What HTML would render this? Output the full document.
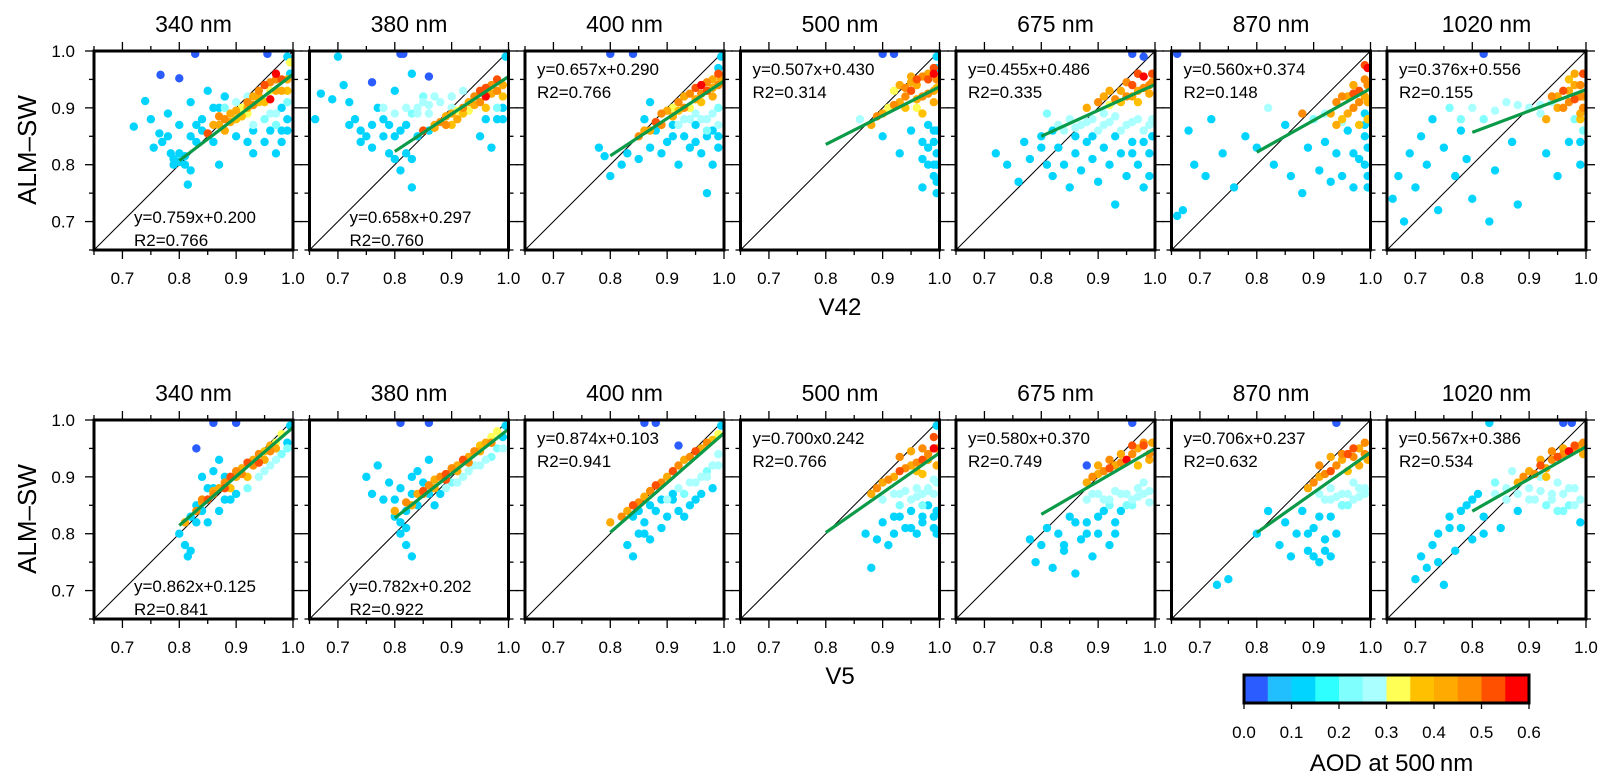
<!DOCTYPE html>
<html><head><meta charset="utf-8">
<style>
html,body{margin:0;padding:0;background:#fff;}
svg{display:block;font-family:"Liberation Sans",sans-serif;}
</style></head>
<body>
<svg id="fig" width="1612" height="783" viewBox="0 0 1612 783" xmlns="http://www.w3.org/2000/svg"></svg>
<script>
// ---------- data ----------
const wavelengths = ["340 nm","380 nm","400 nm","500 nm","675 nm","870 nm","1020 nm"];
const xTickValues = [0.7,0.8,0.9,1.0];
const yTickValues = [0.7,0.8,0.9,1.0];
const aodTickLabels = ["0.0","0.1","0.2","0.3","0.4","0.5","0.6"];
const aodColors = ['#2a5cff','#22bfff','#00d4ff','#2effff','#80ffff','#aaffff','#ffff55','#ffc000','#ffaa00','#ff8c00','#ff5000','#ff0000'];
const slopesV42 = [0.759,0.658,0.657,0.507,0.455,0.560,0.376];
const interceptsV42 = [0.200,0.297,0.290,0.430,0.486,0.374,0.556];
const eqTextV42 = ["y=0.759x+0.200","y=0.658x+0.297","y=0.657x+0.290","y=0.507x+0.430","y=0.455x+0.486","y=0.560x+0.374","y=0.376x+0.556"];
const r2TextV42 = ["R2=0.766","R2=0.760","R2=0.766","R2=0.314","R2=0.335","R2=0.148","R2=0.155"];
const slopesV5 = [0.862,0.782,0.874,0.700,0.580,0.706,0.567];
const interceptsV5 = [0.125,0.202,0.103,0.242,0.370,0.237,0.386];
const eqTextV5 = ["y=0.862x+0.125","y=0.782x+0.202","y=0.874x+0.103","y=0.700x0.242","y=0.580x+0.370","y=0.706x+0.237","y=0.567x+0.386"];
const r2TextV5 = ["R2=0.841","R2=0.922","R2=0.941","R2=0.766","R2=0.749","R2=0.632","R2=0.534"];

// points: [x, y, aod]
const ptsV42_340 = [[0.72,0.867,.1],[0.74,0.912,.1],[0.75,0.88,.1],[0.755,0.83,.1],[0.765,0.855,.1],[0.77,0.84,.1],[0.78,0.89,.15],[0.785,0.82,.1],[0.79,0.81,.1],[0.80,0.805,.1],[0.81,0.815,.1],[0.82,0.79,.1],[0.815,0.765,.15],[0.82,0.85,.1],[0.83,0.87,.1],[0.84,0.88,.1],[0.82,0.91,.1],[0.85,0.93,.1],[0.86,0.90,.1],[0.87,0.80,.1],[0.88,0.92,.1],[0.84,0.86,.1],[0.93,0.82,.1],[0.95,0.84,.1],[0.97,0.82,.1],[0.98,0.86,.1],[0.99,0.88,.1],[0.995,0.96,.1],[0.99,0.99,.1],[0.97,0.87,.2],[0.96,0.89,.25],[0.93,0.87,.25],[0.90,0.89,.28],[0.98,0.9,.15],[0.92,0.84,.12],[0.767,0.958,.02],[0.80,0.952,.02],[0.828,0.995,.02],[0.955,0.995,.02],[0.85,0.855,.5],[0.87,0.87,.4],[0.88,0.88,.45],[0.89,0.89,.4],[0.90,0.895,.4],[0.91,0.90,.35],[0.92,0.91,.45],[0.93,0.92,.4],[0.94,0.93,.45],[0.95,0.94,.5],[0.96,0.915,.6],[0.97,0.95,.45],[0.98,0.93,.4],[0.99,0.95,.4],[0.96,0.93,.35],[0.90,0.88,.38],[0.94,0.91,.38],[0.88,0.86,.42],[0.995,0.98,.33],[0.92,0.89,.33]];
const extraV42_340 = [[0.86,0.87,.4],[0.87,0.885,.45],[0.89,0.875,.4],[0.91,0.885,.38],[0.92,0.90,.4],[0.93,0.905,.45],[0.94,0.92,.4],[0.95,0.91,.38],[0.96,0.945,.45],[0.97,0.93,.42],[0.98,0.95,.5],[0.99,0.93,.38],[0.97,0.96,.55],[0.88,0.90,.2],[0.90,0.91,.25],[0.92,0.92,.28],[0.95,0.88,.2],[0.97,0.89,.28],[0.99,0.91,.2],[0.78,0.85,.1],[0.80,0.87,.1],[0.83,0.84,.12],[0.86,0.84,.1],[0.87,0.90,.12],[0.90,0.85,.1],[0.93,0.86,.12],[0.96,0.86,.1],[0.98,0.84,.1],[0.99,0.86,.12],[0.79,0.80,.12],[0.81,0.80,.1],[0.80,0.82,.12]];
const ptsV42_380 = [[0.66,0.88,.1],[0.67,0.925,.1],[0.69,0.915,.1],[0.70,0.99,.1],[0.71,0.94,.1],[0.72,0.91,.1],[0.73,0.88,.1],[0.74,0.86,.1],[0.75,0.85,.1],[0.76,0.87,.15],[0.77,0.90,.1],[0.78,0.88,.15],[0.79,0.82,.1],[0.80,0.81,.1],[0.81,0.79,.1],[0.80,0.85,.1],[0.82,0.87,.15],[0.83,0.89,.2],[0.84,0.90,.25],[0.85,0.91,.28],[0.86,0.89,.25],[0.87,0.92,.28],[0.83,0.76,.1],[0.84,0.85,.1],[0.86,0.86,.15],[0.90,0.92,.28],[0.92,0.93,.28],[0.95,0.85,.1],[0.97,0.83,.1],[0.98,0.88,.1],[0.99,0.9,.15],[0.995,0.99,.1],[0.80,0.93,.12],[0.83,0.96,.1],[0.76,0.945,.02],[0.81,0.995,.02],[0.815,0.995,.02],[0.86,0.955,.02],[0.85,0.86,.5],[0.87,0.87,.4],[0.88,0.875,.45],[0.89,0.885,.4],[0.90,0.89,.4],[0.91,0.895,.35],[0.92,0.90,.45],[0.93,0.91,.4],[0.94,0.92,.45],[0.95,0.93,.5],[0.96,0.92,.6],[0.97,0.94,.45],[0.98,0.95,.5],[0.99,0.94,.4],[0.96,0.90,.38],[0.90,0.87,.38],[0.93,0.895,.33]];
const extraV42_380 = [[0.80,0.89,.25],[0.82,0.90,.28],[0.84,0.89,.25],[0.86,0.905,.28],[0.88,0.91,.25],[0.90,0.90,.28],[0.85,0.92,.2],[0.78,0.90,.25],[0.72,0.87,.1],[0.74,0.84,.1],[0.76,0.83,.1],[0.78,0.85,.1],[0.79,0.87,.15],[0.81,0.86,.1],[0.83,0.81,.1],[0.82,0.82,.12],[0.96,0.88,.15],[0.98,0.90,.2],[0.99,0.88,.1],[0.87,0.865,.4],[0.89,0.87,.45],[0.91,0.88,.4],[0.92,0.89,.38],[0.94,0.905,.4],[0.95,0.91,.45],[0.96,0.935,.5],[0.97,0.925,.4],[0.98,0.93,.45],[0.99,0.92,.38]];
const ptsV42_400 = [[0.78,0.83,.1],[0.79,0.815,.1],[0.80,0.78,.1],[0.82,0.80,.1],[0.83,0.82,.1],[0.85,0.81,.1],[0.87,0.83,.1],[0.88,0.86,.1],[0.90,0.84,.1],[0.91,0.87,.15],[0.92,0.80,.1],[0.93,0.85,.1],[0.94,0.83,.1],[0.95,0.87,.1],[0.96,0.82,.1],[0.97,0.75,.1],[0.98,0.80,.1],[0.99,0.85,.1],[0.86,0.88,.1],[0.87,0.91,.1],[0.93,0.88,.25],[0.95,0.89,.25],[0.97,0.88,.28],[0.99,0.87,.25],[0.995,0.99,.1],[0.99,0.97,.15],[0.80,0.995,.02],[0.84,0.995,.02],[0.85,0.85,.45],[0.86,0.86,.4],[0.88,0.875,.5],[0.89,0.89,.45],[0.90,0.895,.4],[0.91,0.90,.35],[0.92,0.91,.45],[0.93,0.92,.4],[0.94,0.925,.45],[0.95,0.935,.5],[0.96,0.94,.55],[0.97,0.945,.45],[0.98,0.95,.4],[0.99,0.96,.5],[0.96,0.91,.38],[0.94,0.90,.35],[0.98,0.92,.4]];
const extraV42_400 = [[0.87,0.86,.4],[0.89,0.87,.45],[0.91,0.885,.4],[0.92,0.895,.38],[0.93,0.90,.45],[0.95,0.915,.4],[0.96,0.925,.45],[0.97,0.93,.5],[0.98,0.935,.4],[0.99,0.94,.45],[0.995,0.95,.4],[0.92,0.87,.25],[0.94,0.88,.28],[0.96,0.88,.25],[0.98,0.89,.28],[0.99,0.90,.2],[0.97,0.86,.2],[0.89,0.82,.1],[0.91,0.85,.1],[0.95,0.84,.1],[0.97,0.85,.12],[0.99,0.83,.1],[0.98,0.86,.1]];
const ptsV42_500 = [[0.86,0.88,.25],[0.88,0.87,.4],[0.89,0.885,.45],[0.90,0.89,.4],[0.91,0.90,.35],[0.92,0.905,.45],[0.93,0.91,.4],[0.94,0.92,.45],[0.95,0.93,.5],[0.96,0.94,.4],[0.97,0.92,.45],[0.98,0.95,.5],[0.99,0.93,.4],[0.97,0.89,.38],[0.99,0.96,.55],[0.96,0.90,.35],[0.95,0.955,.4],[0.92,0.93,.33],[0.90,0.85,.1],[0.93,0.82,.1],[0.95,0.86,.15],[0.97,0.84,.1],[0.98,0.80,.1],[0.99,0.78,.1],[0.995,0.82,.1],[0.99,0.86,.12],[0.98,0.87,.1],[0.995,0.75,.1],[0.97,0.76,.1],[0.995,0.99,.1],[0.995,0.97,.12],[0.90,0.995,.02],[0.92,0.995,.02]];
const extraV42_500 = [[0.93,0.94,.4],[0.94,0.935,.45],[0.95,0.945,.4],[0.96,0.95,.5],[0.97,0.955,.45],[0.98,0.96,.4],[0.99,0.97,.5],[0.995,0.95,.45],[0.96,0.915,.4],[0.98,0.925,.45],[0.99,0.91,.4],[0.995,0.935,.38],[0.94,0.90,.38],[0.98,0.83,.1],[0.99,0.80,.1],[0.995,0.86,.1],[0.995,0.80,.12],[0.97,0.81,.1],[0.995,0.77,.1],[0.99,0.84,.15]];
const ptsV42_675 = [[0.72,0.82,.1],[0.74,0.80,.1],[0.76,0.77,.1],[0.77,0.84,.1],[0.78,0.81,.1],[0.80,0.85,.15],[0.81,0.80,.1],[0.82,0.78,.1],[0.83,0.83,.1],[0.84,0.80,.1],[0.85,0.76,.1],[0.86,0.82,.1],[0.87,0.79,.1],[0.88,0.84,.1],[0.89,0.81,.1],[0.90,0.77,.1],[0.91,0.83,.1],[0.92,0.80,.1],[0.93,0.73,.1],[0.94,0.82,.1],[0.95,0.78,.1],[0.96,0.84,.1],[0.97,0.80,.1],[0.98,0.76,.1],[0.99,0.82,.1],[0.83,0.87,.25],[0.85,0.88,.28],[0.87,0.87,.25],[0.89,0.88,.28],[0.91,0.87,.25],[0.93,0.885,.28],[0.95,0.87,.25],[0.97,0.88,.28],[0.99,0.87,.25],[0.81,0.89,.2],[0.96,0.995,.02],[0.98,0.99,.02],[0.88,0.90,.4],[0.90,0.91,.45],[0.91,0.92,.4],[0.92,0.905,.35],[0.93,0.915,.45],[0.94,0.93,.4],[0.95,0.92,.45],[0.96,0.94,.5],[0.97,0.93,.4],[0.98,0.955,.6],[0.99,0.94,.45],[0.995,0.96,.5],[0.97,0.91,.38]];
const extraV42_675 = [[0.84,0.86,.28],[0.86,0.865,.25],[0.88,0.875,.28],[0.90,0.86,.25],[0.92,0.875,.28],[0.94,0.86,.25],[0.96,0.875,.28],[0.98,0.86,.25],[0.995,0.88,.28],[0.91,0.89,.25],[0.80,0.83,.1],[0.82,0.86,.1],[0.86,0.85,.1],[0.89,0.85,.1],[0.93,0.85,.12],[0.96,0.82,.1],[0.98,0.84,.1],[0.99,0.78,.1],[0.995,0.85,.12],[0.92,0.93,.4],[0.94,0.91,.38],[0.95,0.945,.45],[0.96,0.92,.4],[0.97,0.96,.5],[0.98,0.935,.45],[0.99,0.925,.4],[0.995,0.945,.45]];
const ptsV42_870 = [[0.66,0.71,.1],[0.67,0.72,.1],[0.68,0.86,.1],[0.69,0.80,.1],[0.71,0.78,.1],[0.72,0.88,.1],[0.74,0.82,.1],[0.76,0.76,.1],[0.78,0.85,.1],[0.80,0.83,.1],[0.82,0.90,.25],[0.83,0.80,.1],[0.85,0.87,.1],[0.86,0.78,.1],[0.88,0.75,.1],[0.89,0.83,.1],[0.90,0.88,.2],[0.91,0.79,.1],[0.92,0.84,.1],[0.93,0.77,.1],[0.94,0.82,.15],[0.95,0.78,.1],[0.96,0.86,.1],[0.97,0.76,.1],[0.98,0.81,.1],[0.99,0.85,.1],[0.995,0.78,.1],[0.99,0.89,.15],[0.66,0.995,.02],[0.88,0.89,.45],[0.93,0.89,.4],[0.94,0.91,.45],[0.95,0.88,.38],[0.96,0.92,.4],[0.97,0.90,.45],[0.98,0.93,.5],[0.99,0.95,.45],[0.995,0.97,.55],[0.98,0.87,.38],[0.97,0.94,.4],[0.995,0.91,.4]];
const extraV42_870 = [[0.94,0.87,.4],[0.95,0.92,.45],[0.96,0.89,.4],[0.97,0.925,.5],[0.98,0.91,.45],[0.99,0.92,.4],[0.995,0.94,.45],[0.99,0.975,.5],[0.995,0.88,.38],[0.99,0.80,.1],[0.995,0.83,.12],[0.995,0.76,.1],[0.99,0.87,.15],[0.97,0.82,.1],[0.92,0.89,.25],[0.95,0.875,.28]];
const ptsV42_1020 = [[0.66,0.74,.1],[0.67,0.78,.1],[0.68,0.70,.1],[0.69,0.82,.1],[0.70,0.76,.1],[0.71,0.85,.1],[0.72,0.80,.1],[0.73,0.88,.15],[0.74,0.72,.1],[0.75,0.83,.1],[0.76,0.90,.2],[0.77,0.78,.1],[0.78,0.86,.1],[0.79,0.81,.1],[0.80,0.74,.1],[0.82,0.88,.2],[0.83,0.70,.1],[0.84,0.79,.1],[0.86,0.91,.25],[0.87,0.84,.1],[0.88,0.73,.1],[0.90,0.90,.25],[0.92,0.89,.28],[0.93,0.82,.1],[0.94,0.91,.25],[0.95,0.78,.1],[0.96,0.90,.28],[0.97,0.84,.1],[0.98,0.88,.2],[0.99,0.80,.1],[0.82,0.995,.02],[0.93,0.88,.4],[0.94,0.92,.45],[0.95,0.90,.4],[0.96,0.93,.5],[0.97,0.91,.45],[0.98,0.94,.4],[0.99,0.92,.45],[0.995,0.96,.5],[0.97,0.95,.38],[0.99,0.89,.4]];
const extraV42_1020 = [[0.95,0.92,.4],[0.96,0.90,.45],[0.97,0.93,.4],[0.98,0.915,.5],[0.99,0.94,.45],[0.995,0.92,.4],[0.995,0.90,.45],[0.98,0.96,.4],[0.99,0.88,.38],[0.80,0.90,.25],[0.84,0.895,.28],[0.88,0.905,.25],[0.92,0.905,.28],[0.995,0.86,.2],[0.99,0.84,.15],[0.78,0.88,.2]];
const ptsV5_340 = [[0.80,0.80,.15],[0.81,0.78,.1],[0.82,0.77,.1],[0.815,0.76,.1],[0.82,0.83,.1],[0.83,0.85,.1],[0.84,0.90,.1],[0.85,0.88,.1],[0.86,0.91,.1],[0.85,0.82,.1],[0.87,0.84,.1],[0.88,0.86,.1],[0.90,0.87,.15],[0.92,0.88,.2],[0.94,0.90,.25],[0.96,0.92,.25],[0.98,0.94,.2],[0.99,0.96,.15],[0.995,0.99,.1],[0.86,0.995,.02],[0.90,0.995,.02],[0.83,0.95,.02],[0.87,0.93,.1],[0.81,0.82,.4],[0.83,0.84,.45],[0.84,0.855,.4],[0.85,0.86,.5],[0.86,0.87,.45],[0.87,0.88,.4],[0.88,0.89,.45],[0.89,0.90,.5],[0.90,0.91,.45],[0.91,0.915,.4],[0.92,0.925,.5],[0.93,0.93,.4],[0.94,0.94,.45],[0.95,0.945,.38],[0.96,0.955,.4],[0.97,0.96,.35],[0.98,0.975,.33],[0.89,0.88,.38],[0.92,0.90,.38]];
const extraV5_340 = [[0.84,0.86,.45],[0.86,0.875,.4],[0.88,0.88,.5],[0.90,0.90,.4],[0.91,0.905,.45],[0.93,0.92,.45],[0.94,0.925,.5],[0.95,0.93,.4],[0.96,0.945,.45],[0.97,0.95,.4],[0.83,0.82,.1],[0.84,0.84,.12],[0.85,0.86,.15],[0.86,0.88,.1],[0.88,0.90,.12],[0.89,0.86,.15],[0.95,0.91,.25],[0.97,0.93,.25],[0.99,0.95,.2]];
const ptsV5_380 = [[0.75,0.90,.1],[0.76,0.87,.1],[0.77,0.92,.1],[0.78,0.86,.1],[0.79,0.89,.1],[0.80,0.83,.1],[0.81,0.80,.1],[0.82,0.78,.1],[0.83,0.76,.1],[0.82,0.84,.1],[0.83,0.87,.15],[0.84,0.91,.1],[0.85,0.89,.15],[0.86,0.93,.1],[0.87,0.85,.1],[0.88,0.87,.15],[0.90,0.89,.2],[0.92,0.90,.25],[0.94,0.92,.28],[0.96,0.93,.25],[0.98,0.95,.2],[0.99,0.97,.15],[0.995,0.99,.1],[0.81,0.995,.02],[0.86,0.995,.02],[0.80,0.84,.4],[0.82,0.855,.45],[0.84,0.87,.4],[0.85,0.875,.5],[0.86,0.885,.45],[0.87,0.895,.4],[0.88,0.90,.45],[0.89,0.905,.5],[0.90,0.915,.45],[0.91,0.92,.4],[0.92,0.93,.5],[0.93,0.935,.4],[0.94,0.945,.45],[0.95,0.955,.38],[0.96,0.96,.4],[0.97,0.97,.35],[0.98,0.98,.33]];
const extraV5_380 = [[0.83,0.85,.4],[0.85,0.87,.45],[0.87,0.88,.4],[0.89,0.895,.5],[0.91,0.91,.4],[0.93,0.925,.45],[0.95,0.945,.4],[0.97,0.96,.45],[0.80,0.86,.1],[0.81,0.88,.12],[0.83,0.90,.1],[0.84,0.85,.15],[0.86,0.87,.15],[0.87,0.89,.2],[0.89,0.88,.25],[0.91,0.89,.25],[0.93,0.91,.28],[0.95,0.92,.25],[0.97,0.935,.2],[0.99,0.95,.25],[0.82,0.81,.1],[0.81,0.82,.12]];
const ptsV5_400 = [[0.83,0.78,.1],[0.84,0.76,.1],[0.85,0.80,.1],[0.86,0.82,.1],[0.87,0.79,.1],[0.88,0.84,.1],[0.89,0.81,.1],[0.90,0.83,.15],[0.91,0.86,.15],[0.92,0.84,.1],[0.93,0.87,.2],[0.94,0.85,.1],[0.95,0.89,.25],[0.96,0.87,.15],[0.97,0.90,.25],[0.98,0.88,.15],[0.99,0.92,.25],[0.995,0.99,.1],[0.86,0.995,.02],[0.88,0.995,.02],[0.92,0.955,.02],[0.80,0.82,.4],[0.82,0.83,.45],[0.83,0.84,.4],[0.84,0.85,.5],[0.85,0.855,.45],[0.86,0.865,.4],[0.87,0.875,.45],[0.88,0.885,.5],[0.89,0.89,.45],[0.90,0.90,.4],[0.91,0.91,.5],[0.92,0.92,.45],[0.93,0.93,.4],[0.94,0.935,.45],[0.95,0.945,.5],[0.96,0.95,.4],[0.97,0.96,.45],[0.98,0.965,.38],[0.99,0.975,.35]];
const extraV5_400 = [[0.90,0.86,.25],[0.92,0.88,.28],[0.94,0.89,.25],[0.96,0.90,.28],[0.98,0.92,.25],[0.99,0.94,.28],[0.97,0.91,.2],[0.85,0.84,.1],[0.87,0.85,.12],[0.89,0.86,.15],[0.91,0.87,.12],[0.93,0.83,.1],[0.95,0.86,.12],[0.86,0.80,.1],[0.84,0.83,.12]];
const ptsV5_500 = [[0.87,0.80,.1],[0.88,0.74,.1],[0.89,0.79,.1],[0.90,0.82,.1],[0.91,0.78,.1],[0.92,0.80,.1],[0.93,0.83,.1],[0.94,0.81,.1],[0.95,0.84,.15],[0.96,0.80,.1],[0.97,0.83,.1],[0.98,0.85,.15],[0.99,0.81,.1],[0.995,0.84,.1],[0.93,0.87,.25],[0.95,0.86,.28],[0.96,0.88,.25],[0.97,0.87,.28],[0.98,0.88,.25],[0.99,0.87,.28],[0.995,0.89,.25],[0.995,0.99,.1],[0.88,0.87,.4],[0.89,0.88,.45],[0.90,0.89,.4],[0.91,0.895,.45],[0.92,0.90,.4],[0.93,0.91,.5],[0.94,0.915,.45],[0.95,0.92,.4],[0.96,0.925,.45],[0.97,0.93,.5],[0.98,0.94,.45],[0.99,0.95,.55],[0.995,0.92,.4],[0.97,0.905,.38]];
const extraV5_500 = [[0.90,0.86,.25],[0.92,0.87,.28],[0.94,0.875,.25],[0.96,0.865,.28],[0.98,0.875,.25],[0.99,0.895,.28],[0.93,0.85,.2],[0.97,0.85,.2],[0.93,0.935,.45],[0.95,0.945,.4],[0.97,0.95,.45],[0.99,0.97,.5],[0.98,0.93,.4],[0.995,0.95,.45],[0.96,0.91,.38],[0.92,0.83,.1],[0.95,0.81,.12],[0.97,0.82,.1],[0.99,0.83,.1],[0.995,0.80,.12]];
const ptsV5_675 = [[0.78,0.79,.1],[0.79,0.75,.1],[0.80,0.78,.1],[0.81,0.81,.1],[0.82,0.74,.1],[0.83,0.80,.1],[0.84,0.77,.1],[0.85,0.83,.1],[0.86,0.73,.1],[0.87,0.79,.1],[0.88,0.82,.1],[0.89,0.76,.1],[0.90,0.80,.1],[0.91,0.84,.1],[0.92,0.78,.1],[0.93,0.82,.1],[0.94,0.84,.15],[0.88,0.86,.25],[0.90,0.87,.28],[0.92,0.86,.25],[0.94,0.87,.28],[0.96,0.86,.25],[0.98,0.87,.28],[0.99,0.855,.25],[0.95,0.85,.2],[0.97,0.88,.28],[0.96,0.995,.02],[0.88,0.92,.02],[0.88,0.89,.4],[0.89,0.90,.45],[0.90,0.905,.4],[0.91,0.91,.45],[0.92,0.915,.5],[0.93,0.92,.4],[0.94,0.925,.45],[0.95,0.93,.6],[0.96,0.94,.45],[0.97,0.95,.4],[0.98,0.955,.5],[0.99,0.94,.45],[0.995,0.96,.4]];
const extraV5_675 = [[0.89,0.87,.25],[0.91,0.86,.28],[0.93,0.875,.25],[0.95,0.87,.28],[0.97,0.865,.25],[0.99,0.875,.28],[0.92,0.85,.2],[0.96,0.85,.2],[0.98,0.89,.25],[0.90,0.92,.4],[0.92,0.93,.45],[0.94,0.94,.4],[0.96,0.955,.5],[0.98,0.96,.45],[0.97,0.92,.38],[0.99,0.93,.4],[0.86,0.82,.1],[0.88,0.80,.12],[0.90,0.83,.1],[0.93,0.80,.1],[0.84,0.78,.1]];
const ptsV5_870 = [[0.80,0.80,.1],[0.82,0.84,.1],[0.84,0.78,.1],[0.85,0.82,.1],[0.86,0.76,.1],[0.87,0.80,.1],[0.88,0.84,.1],[0.89,0.77,.1],[0.90,0.81,.1],[0.91,0.75,.1],[0.92,0.79,.1],[0.93,0.83,.1],[0.94,0.80,.1],[0.95,0.85,.15],[0.73,0.71,.1],[0.75,0.72,.1],[0.91,0.87,.25],[0.93,0.86,.28],[0.95,0.87,.25],[0.97,0.86,.28],[0.99,0.87,.25],[0.96,0.85,.2],[0.98,0.88,.28],[0.94,0.995,.02],[0.89,0.88,.4],[0.90,0.89,.45],[0.91,0.90,.4],[0.92,0.905,.45],[0.93,0.91,.5],[0.94,0.92,.45],[0.95,0.93,.4],[0.96,0.94,.5],[0.97,0.935,.45],[0.98,0.95,.4],[0.99,0.96,.45],[0.995,0.93,.4]];
const extraV5_870 = [[0.92,0.86,.25],[0.94,0.865,.28],[0.96,0.87,.25],[0.98,0.865,.28],[0.99,0.88,.25],[0.93,0.88,.25],[0.95,0.85,.2],[0.97,0.89,.28],[0.91,0.92,.45],[0.93,0.935,.4],[0.95,0.94,.45],[0.97,0.95,.5],[0.99,0.94,.45],[0.98,0.92,.4],[0.96,0.91,.38],[0.90,0.76,.1],[0.92,0.77,.1],[0.93,0.76,.12],[0.91,0.83,.1],[0.89,0.80,.1]];
const ptsV5_1020 = [[0.70,0.72,.1],[0.71,0.76,.1],[0.72,0.74,.1],[0.73,0.78,.1],[0.74,0.80,.1],[0.75,0.71,.1],[0.76,0.83,.1],[0.77,0.77,.1],[0.78,0.81,.1],[0.79,0.85,.1],[0.80,0.79,.1],[0.81,0.87,.15],[0.82,0.83,.1],[0.84,0.89,.2],[0.85,0.81,.1],[0.86,0.86,.25],[0.87,0.91,.25],[0.88,0.84,.15],[0.90,0.88,.28],[0.91,0.86,.25],[0.92,0.90,.28],[0.93,0.85,.2],[0.94,0.87,.28],[0.95,0.89,.25],[0.96,0.84,.2],[0.97,0.88,.28],[0.98,0.85,.25],[0.99,0.82,.15],[0.96,0.995,.02],[0.975,0.995,.02],[0.83,0.995,.1],[0.88,0.89,.4],[0.89,0.90,.45],[0.90,0.91,.4],[0.91,0.905,.45],[0.92,0.92,.5],[0.93,0.915,.4],[0.94,0.93,.45],[0.95,0.935,.5],[0.96,0.94,.45],[0.97,0.945,.55],[0.98,0.95,.45],[0.99,0.955,.4],[0.995,0.94,.4]];
const extraV5_1020 = [[0.84,0.87,.25],[0.86,0.88,.28],[0.88,0.87,.25],[0.90,0.86,.28],[0.92,0.875,.25],[0.94,0.86,.28],[0.96,0.87,.25],[0.98,0.88,.28],[0.99,0.86,.25],[0.95,0.84,.2],[0.97,0.85,.2],[0.92,0.93,.4],[0.94,0.945,.45],[0.96,0.95,.4],[0.98,0.955,.5],[0.995,0.96,.45],[0.93,0.90,.38],[0.76,0.81,.1],[0.78,0.84,.1],[0.80,0.86,.12],[0.82,0.80,.1],[0.74,0.75,.1]];
const pointsV42 = [ptsV42_340.concat(extraV42_340),ptsV42_380.concat(extraV42_380),ptsV42_400.concat(extraV42_400),ptsV42_500.concat(extraV42_500),ptsV42_675.concat(extraV42_675),ptsV42_870.concat(extraV42_870),ptsV42_1020.concat(extraV42_1020)];
const pointsV5 = [ptsV5_340.concat(extraV5_340),ptsV5_380.concat(extraV5_380),ptsV5_400.concat(extraV5_400),ptsV5_500.concat(extraV5_500),ptsV5_675.concat(extraV5_675),ptsV5_870.concat(extraV5_870),ptsV5_1020.concat(extraV5_1020)];

// ---------- layout ----------
const NS = "http://www.w3.org/2000/svg";
const svg = document.getElementById('fig');
const PW = 199, PH = 199, VMIN = 0.65, VMAX = 1.0;
function panelLeft(i){ return 94 + i*215.5; }
function xScale(L, v){ return L + (v-VMIN)/(VMAX-VMIN)*PW; }
function yScale(T, v){ return T + PH - (v-VMIN)/(VMAX-VMIN)*PH; }
function mk(tag, attrs, parent){
  const e = document.createElementNS(NS, tag);
  for (const k in attrs) e.setAttribute(k, attrs[k]);
  (parent||svg).appendChild(e);
  return e;
}
function colorFor(a){ let i = Math.floor(a/0.05); if(i<0)i=0; if(i>11)i=11; return aodColors[i]; }

function drawRow(T, pts, slopes, ints, eqs, r2s, rowName, eqTop){
  for (let i=0;i<7;i++){
    const L = panelLeft(i);
    const g = mk('g', {});
    
    
    const t = mk('text', {x:L+PW/2, y:T-19, 'text-anchor':'middle', 'font-size':23}, g);
    t.textContent = wavelengths[i];
    
    
    const cid = 'c'+rowName+i;
    const cp = mk('clipPath', {id:cid}, g);
    mk('rect', {x:L, y:T, width:PW, height:PH}, cp);
    const inner = mk('g', {'clip-path':'url(#'+cid+')'}, g);
    const ol = mk('line', {x1:xScale(L,VMIN), y1:yScale(T,VMIN), x2:xScale(L,VMAX), y2:yScale(T,VMAX), stroke:'#000', 'stroke-width':1}, inner);
    
    
    const sorted = pts[i].slice().sort((a,b)=>a[2]-b[2]);
    for (const p of sorted){
      const c = mk('circle', {cx:xScale(L,p[0]), cy:yScale(T,p[1]), r:4.2, fill:colorFor(p[2])}, inner);
      
      
    }
    const rl = mk('line', {x1:xScale(L,0.8), y1:yScale(T,slopes[i]*0.8+ints[i]), x2:xScale(L,1.0), y2:yScale(T,slopes[i]*1.0+ints[i]), stroke:'#0a9a48', 'stroke-width':3.2}, inner);
    
    
    const fr = mk('rect', {x:L, y:T, width:PW, height:PH, fill:'none', stroke:'#000', 'stroke-width':3}, g);
    
    
    for (let k=0;k<=7;k++){
      const v = VMIN + k*0.05;
      const major = (k%2===1);
      const len = major?9:5;
      const xx = xScale(L,v), yy = yScale(T,v);
      mk('line', {x1:xx, y1:T+PH, x2:xx, y2:T+PH+len, stroke:'#000','stroke-width':1.3}, g);
      mk('line', {x1:xx, y1:T, x2:xx, y2:T-len, stroke:'#000','stroke-width':1.3}, g);
      mk('line', {x1:L, y1:yy, x2:L-len, y2:yy, stroke:'#000','stroke-width':1.3}, g);
      mk('line', {x1:L+PW, y1:yy, x2:L+PW+len, y2:yy, stroke:'#000','stroke-width':1.3}, g);
    }
    for (const v of xTickValues){
      const tl = mk('text', {x:xScale(L,v), y:T+PH+34, 'text-anchor':'middle', 'font-size':17}, g);
      tl.textContent = v.toFixed(1);
      
      
    }
    if (i===0){
      for (const v of yTickValues){
        const yl = mk('text', {x:L-19, y:yScale(T,v)+6, 'text-anchor':'end', 'font-size':17}, g);
        yl.textContent = v.toFixed(1);
        
        
      }
    }
    const top = eqTop[i];
    const ex = top ? L+12 : L+40;
    const ey1 = top ? T+24 : T+PH-27;
    const e1 = mk('text', {x:ex, y:ey1, 'font-size':17}, g);
    e1.textContent = eqs[i];
    
    
    const e2 = mk('text', {x:ex, y:ey1+23, 'font-size':17}, g);
    e2.textContent = r2s[i];
    
    
  }
}
const eqTopFlags = [false,false,true,true,true,true,true];
drawRow(51, pointsV42, slopesV42, interceptsV42, eqTextV42, r2TextV42, 'v42', eqTopFlags);
drawRow(420, pointsV5, slopesV5, interceptsV5, eqTextV5, r2TextV5, 'v5', eqTopFlags);

function txt(x,y,s,size,name,extra){
  const t = mk('text', Object.assign({x:x,y:y,'text-anchor':'middle','font-size':size}, extra||{}));
  t.textContent = s;
  
  
  return t;
}
const xc = panelLeft(3)+PW/2;
txt(xc, 315, 'V42', 24, 'x-axis-title-v42');
txt(xc, 684, 'V5', 24, 'x-axis-title-v5');
txt(0, 0, 'ALM\u2013SW', 26, 'y-axis-title-top', {transform:'translate(36,150) rotate(-90)'});
txt(0, 0, 'ALM\u2013SW', 26, 'y-axis-title-bottom', {transform:'translate(36,519) rotate(-90)'});

const CBX = 1244, CBY = 675, CBW = 285, CBH = 28;
const cb = mk('g', {});


for (let k=0;k<aodColors.length;k++){
  const r = mk('rect', {x:CBX+k*CBW/12, y:CBY, width:CBW/12+0.5, height:CBH, fill:aodColors[k]}, cb);
  
  
}
mk('rect', {x:CBX, y:CBY, width:CBW, height:CBH, fill:'none', stroke:'#000','stroke-width':3}, cb);
for (let k=0;k<aodTickLabels.length;k++){
  const xx = CBX + k*CBW/6;
  mk('line', {x1:xx, y1:CBY+CBH, x2:xx, y2:CBY+CBH+6, stroke:'#000','stroke-width':1.3}, cb);
  const tl = mk('text', {x:xx, y:CBY+CBH+35, 'text-anchor':'middle','font-size':17}, cb);
  tl.textContent = aodTickLabels[k];
  
  
}
txt(CBX+CBW/2+5, 771, 'AOD at 500\u2009nm', 24, 'colorbar-title');
</script>
</body></html>
